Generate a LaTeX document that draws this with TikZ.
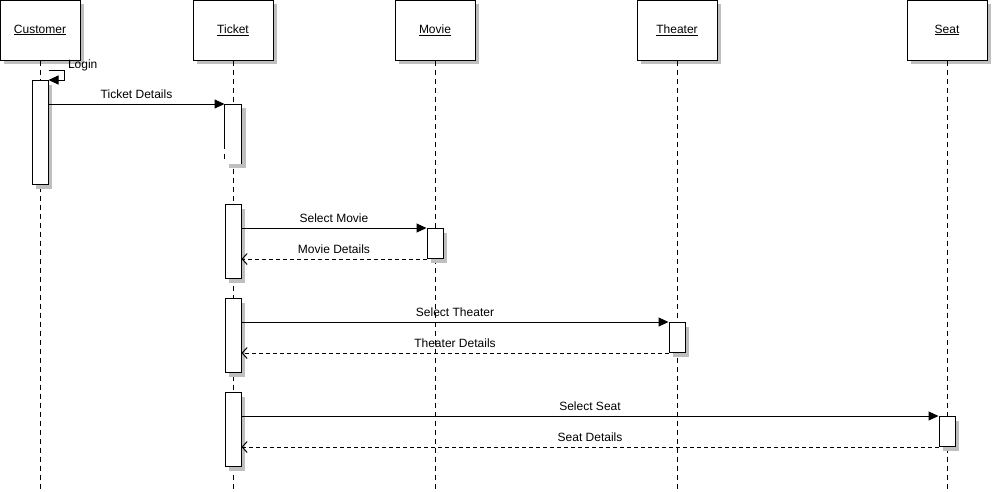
\documentclass[tikz,border=0pt]{standalone}
\usepackage{fontspec}
\setmainfont{Liberation Sans}
\usetikzlibrary{arrows.meta,shadows,positioning}

\begin{document}
\begin{tikzpicture}[x=1pt,y=-1pt,line width=1pt,font=\fontsize{12}{14}\selectfont,
			shade box/.style={drop shadow={shadow xshift=4pt,shadow yshift=-4pt,fill=black!25,opacity=1}},
			head node/.style={draw,fill=white,shade box,minimum width=80pt,minimum height=60pt,inner sep=0pt},
			act node/.style={draw,fill=white,shade box,minimum width=16pt,inner sep=0pt,anchor=north},
			life line/.style={dash pattern=on 5pt off 4pt},
			call/.style={-{Triangle[length=10pt,width=9pt]}},
			reply/.style={dash pattern=on 4pt off 3pt,-{Straight Barb[length=5pt,width=11pt]}},
			msg/.style={above=2pt}]
	\useasboundingbox[fill=white] (0,0) rectangle (992,491);
	\coordinate (bot) at (0,491);

	% lifeline heads
	\node[head node] (cust) at (40,30) {\underline{Customer}};
	\node[head node] (tick) at (233,30) {\underline{Ticket}};
	\node[head node] (movie) at (435,30) {\underline{Movie}};
	\node[head node] (theat) at (677,30) {\underline{Theater}};
	\node[head node] (seat) at (947,30) {\underline{Seat}};

	\foreach \n in {cust,tick,movie,theat,seat}
		\draw[life line] (\n.south) -- (\n.south |- bot);

	% activations
	\node[act node,minimum height=104pt] (cust1) at (40,80) {};
	\node[minimum width=16pt,minimum height=59pt,inner sep=0pt,anchor=north] (tick1) at (233,104) {};
	\fill[black!25] ([shift={(4pt,-4pt)}]tick1.north west) rectangle ([shift={(4pt,-4pt)}]tick1.south east);
	\fill[white] (tick1.north west) rectangle (tick1.south east);
	\draw ([yshift=15pt]tick1.south west) -- (tick1.north west) -- (tick1.north east) -- (tick1.south east);
	\draw ([yshift=10pt]tick1.south west) -- ([yshift=5pt]tick1.south west);
	\node[act node,minimum height=74pt] (tick2) at (233,204) {};
	\node[act node,minimum height=30pt] (movie1) at (435,228) {};
	\node[act node,minimum height=74pt] (tick3) at (233,298) {};
	\node[act node,minimum height=30pt] (theat1) at (677,322) {};
	\node[act node,minimum height=74pt] (tick4) at (233,392) {};
	\node[act node,minimum height=30pt] (seat1) at (947,416) {};

	% messages
	\coordinate (login) at ([yshift=10pt]cust1.north east);
	\draw[call] (login) -- ++(16,0) node[anchor=south west,inner xsep=3pt,inner ysep=1pt,yshift=-2pt] {Login} -- ++(0,10) -- (cust1.north east);
	\draw[call] (tick1.north west -| cust1.east) -- node[msg] {Ticket Details} (tick1.north west);

	\draw[call] (movie1.north west -| tick2.east) -- node[msg] {Select Movie} (movie1.north west);
	\draw[reply] (movie1.south west) -- node[msg] {Movie Details} (movie1.south west -| tick2.east);

	\draw[call] (theat1.north west -| tick3.east) -- node[msg] {Select Theater} (theat1.north west);
	\draw[reply] (theat1.south west) -- node[msg] {Theater Details} (theat1.south west -| tick3.east);

	\draw[call] (seat1.north west -| tick4.east) -- node[msg] {Select Seat} (seat1.north west);
	\draw[reply] (seat1.south west) -- node[msg] {Seat Details} (seat1.south west -| tick4.east);
\end{tikzpicture}
\end{document}
